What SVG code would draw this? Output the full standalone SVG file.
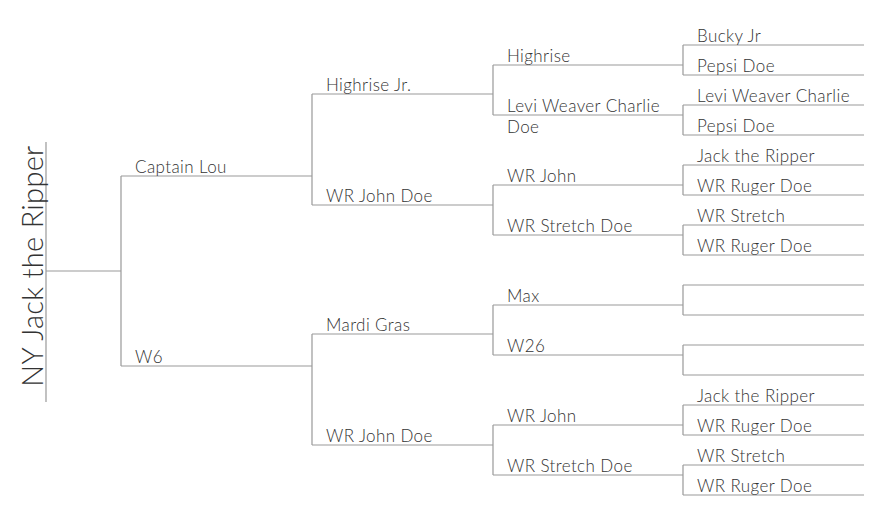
<svg xmlns="http://www.w3.org/2000/svg" width="884" height="526" viewBox="0 0 884 526">
<style>
.c{fill:none;stroke:#999;stroke-width:1.2}
text{font-family:Lato,"Open Sans","Liberation Sans",sans-serif;font-weight:300;font-size:17px;letter-spacing:0.4px;fill:#333}
.root{font-size:29px;letter-spacing:0.3px}
</style>
<rect width="884" height="526" fill="#fff"/>
<g id="connectors">
<path class="c" d="M46 142V402M46 271H121M121 176V366"/>
<path class="c" d="M121 176H312M121 366H312"/>
<path class="c" d="M312 94V205M312 334V445"/>
<path class="c" d="M312 94H493M312 205H493M312 334H493M312 445H493"/>
<path class="c" d="M493 65V115M493 185V235M493 305V355M493 425V475"/>
<path class="c" d="M493 65H683M493 115H683M493 185H683M493 235H683M493 305H683M493 355H683M493 425H683M493 475H683"/>
<path class="c" d="M683 45V75M683 105V135M683 165V195M683 225V255M683 285V315M683 345V375M683 405V435M683 465V495"/>
<path class="c" d="M683 45H864M683 75H864M683 105H864M683 135H864M683 165H864M683 195H864M683 225H864M683 255H864M683 285H864M683 315H864M683 345H864M683 375H864M683 405H864M683 435H864M683 465H864M683 495H864"/>
</g>
<g id="n-root"><text class="root" transform="translate(43 266) rotate(-90)" text-anchor="middle">NY Jack the Ripper</text></g>
<g id="n-captain-lou"><text x="135" y="173">Captain Lou</text></g>
<g id="n-w6"><text x="135" y="363">W6</text></g>
<g id="n-highrise-jr"><text x="326" y="91">Highrise Jr.</text></g>
<g id="n-wr-john-doe-1"><text x="326" y="202">WR John Doe</text></g>
<g id="n-mardi-gras"><text x="326" y="331">Mardi Gras</text></g>
<g id="n-wr-john-doe-2"><text x="326" y="442">WR John Doe</text></g>
<g id="n-highrise"><text x="507" y="62">Highrise</text></g>
<g id="n-levi-1"><text x="507" y="112">Levi Weaver Charlie</text><text x="507" y="133">Doe</text></g>
<g id="n-wr-john-1"><text x="507" y="182">WR John</text></g>
<g id="n-wr-stretch-doe-1"><text x="507" y="232">WR Stretch Doe</text></g>
<g id="n-max"><text x="507" y="302">Max</text></g>
<g id="n-w26"><text x="507" y="352">W26</text></g>
<g id="n-wr-john-2"><text x="507" y="422">WR John</text></g>
<g id="n-wr-stretch-doe-2"><text x="507" y="472">WR Stretch Doe</text></g>
<g id="n-bucky-jr"><text x="697" y="42">Bucky Jr</text></g>
<g id="n-pepsi-doe-1"><text x="697" y="72">Pepsi Doe</text></g>
<g id="n-levi-2"><text x="697" y="102">Levi Weaver Charlie</text></g>
<g id="n-pepsi-doe-2"><text x="697" y="132">Pepsi Doe</text></g>
<g id="n-jack-1"><text x="697" y="162">Jack the Ripper</text></g>
<g id="n-wr-ruger-1"><text x="697" y="192">WR Ruger Doe</text></g>
<g id="n-wr-stretch-1"><text x="697" y="222">WR Stretch</text></g>
<g id="n-wr-ruger-2"><text x="697" y="252">WR Ruger Doe</text></g>
<g id="n-empty-1"/>
<g id="n-empty-2"/>
<g id="n-empty-3"/>
<g id="n-empty-4"/>
<g id="n-jack-2"><text x="697" y="402">Jack the Ripper</text></g>
<g id="n-wr-ruger-3"><text x="697" y="432">WR Ruger Doe</text></g>
<g id="n-wr-stretch-2"><text x="697" y="462">WR Stretch</text></g>
<g id="n-wr-ruger-4"><text x="697" y="492">WR Ruger Doe</text></g>
</svg>
